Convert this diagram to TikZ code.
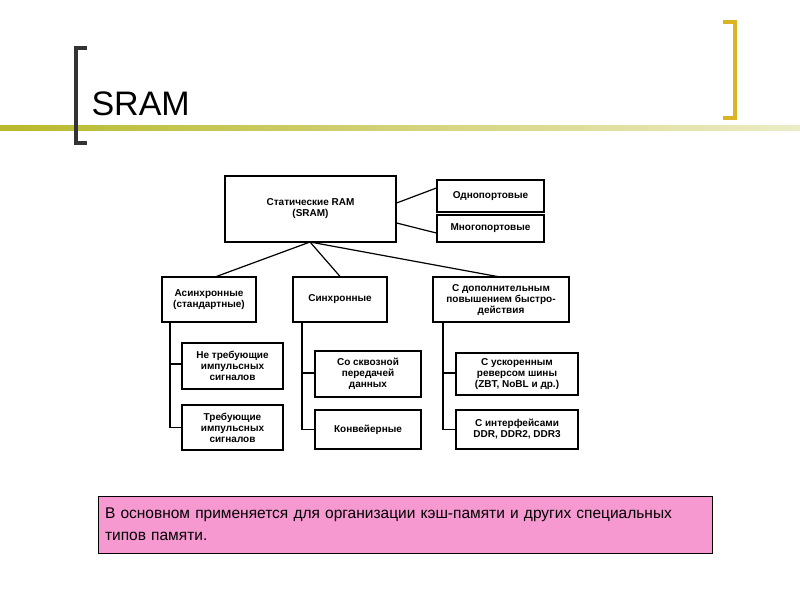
\documentclass[tikz,border=0pt]{standalone}
\usepackage{fontspec}
\setmainfont{Liberation Sans}
\begin{document}
\begin{tikzpicture}[x=1pt,y=-1pt,
    box/.style={draw,line width=1.2pt,align=center,inner sep=1pt,font=\fontsize{10}{11}\selectfont\bfseries},
    link/.style={line width=1.2pt}]
  \useasboundingbox (0,0) rectangle (800,600);
  % Slide decoration
  \fill[left color=olive!55, right color=olive!15] (0,125) rectangle (800,130);
  \draw[line width=4.5pt,black!80] (87,48) -- (76,48) -- (76,143) -- (87,143);
  \draw[line width=4.5pt,yellow!60!orange!85!black] (723,22) -- (735,22) -- (735,118) -- (723,118);
  \node[anchor=west,font=\fontsize{34}{36}\selectfont] (title) at (88,104) {SRAM};
  % Define nodes
  \node[box,minimum width=171pt,minimum height=66pt] (root) at (310.5,209) {Статические RAM\\(SRAM)};
  \node[box,minimum width=107pt,minimum height=32pt] (one) at (490.5,196) {Однопортовые};
  \node[box,minimum width=107pt,minimum height=27pt] (multi) at (490.5,228.5) {Многопортовые};
  \node[box,minimum width=94pt,minimum height=45pt] (async) at (209,299.5) {Асинхронные\\(стандартные)};
  \node[box,minimum width=94pt,minimum height=45pt] (sync) at (340,299.5) {Синхронные};
  \node[box,minimum width=136pt,minimum height=45pt] (fast) at (501,299.5) {С дополнительным\\повышением быстро-\\действия};
  \node[box,minimum width=101pt,minimum height=46pt] (nopulse) at (232.5,366) {Не требующие\\импульсных\\сигналов};
  \node[box,minimum width=101pt,minimum height=45pt] (pulse) at (232.5,427.5) {Требующие\\импульсных\\сигналов};
  \node[box,minimum width=106pt,minimum height=46pt] (flow) at (368,374) {Со сквозной\\передачей\\данных};
  \node[box,minimum width=106pt,minimum height=39pt] (pipe) at (368,429.5) {Конвейерные};
  \node[box,minimum width=122pt,minimum height=42pt] (zbt) at (517,374) {С ускоренным\\реверсом шины\\(ZBT, NoBL и др.)};
  \node[box,minimum width=122pt,minimum height=39pt] (ddr) at (517,429.5) {С интерфейсами\\DDR, DDR2, DDR3};
  \coordinate (hub) at (310,242);
  % Connect the nodes
  \draw[link] (root.east |- 0,203) -- (one.west |- 0,188);
  \draw[link] (root.east |- 0,223) -- (multi.west |- 0,233);
  \draw[link] (hub) -- (215,277);
  \draw[link] (hub) -- (sync.north);
  \draw[link] (hub) -- (500,277);
  \draw[link] (170,322) |- (pulse.west);
  \draw[link] (170,364) -- (nopulse.west |- 0,364);
  \draw[link] (302,322) |- (pipe.west);
  \draw[link] (302,373) -- (flow.west |- 0,373);
  \draw[link] (443,322) |- (ddr.west);
  \draw[link] (443,373) -- (zbt.west |- 0,373);
  % Note
  \node[draw,fill=magenta!40,minimum width=614pt,minimum height=57pt,text width=600pt,align=left,
        font=\fontsize{15.5}{22}\selectfont] (note) at (405,524.5)
        {В основном применяется для организации кэш-памяти и других специальных типов памяти.};
\end{tikzpicture}
\end{document}
